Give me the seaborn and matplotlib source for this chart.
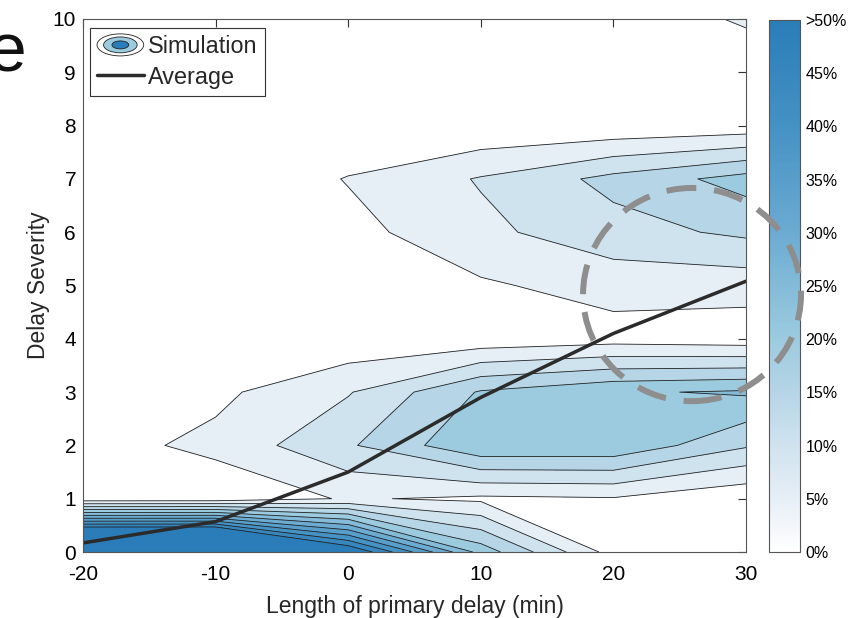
import numpy as np
import matplotlib
matplotlib.use("Agg")
import matplotlib.pyplot as plt
import seaborn as sns
from matplotlib.colors import LinearSegmentedColormap, Normalize
from matplotlib.patches import Ellipse
from matplotlib.lines import Line2D
from matplotlib.patches import Patch
from matplotlib.legend_handler import HandlerBase
import matplotlib.cm as cm

# ---------------- data ----------------
primary_delay = [-20, -10, 0, 10, 20, 30]          # x grid (min)
severity = [0, 1, 2, 3, 4, 5, 6, 7, 8, 9, 10]      # y grid
# share of simulations (rows: severity, columns: primary delay)
sim_row_0 = [0.93, 0.93, 0.56, 0.23, 0.028, 0.0]
sim_row_1 = [0.013, 0.015, 0.055, 0.04, 0.046, 0.009]
sim_row_2 = [0.029, 0.063, 0.143, 0.242, 0.241, 0.156]
sim_row_3 = [0.0, 0.0385, 0.096, 0.205, 0.243, 0.257]
sim_row_4 = [0.0, 0.0, 0.011, 0.016, 0.029, 0.021]
sim_row_5 = [0.0, 0.0, 0.0, 0.043, 0.07, 0.07]
sim_row_6 = [0.0, 0.0, 0.033, 0.088, 0.131, 0.16]
sim_row_7 = [0.0, 0.0, 0.053, 0.104, 0.165, 0.22]
sim_row_8 = [0.0, 0.0, 0.0, 0.006, 0.01, 0.018]
sim_row_9 = [0.0, 0.0, 0.0, 0.0, 0.0, 0.0]
sim_row_10 = [0.0, 0.0, 0.0, 0.0, 0.0, 0.06]

avg_delay = [-20, -10, 0, 10, 20, 30]
avg_severity = [0.17, 0.57, 1.5, 2.9, 4.1, 5.08]

contour_levels = [0.05, 0.10, 0.15, 0.20, 0.25, 0.30, 0.35, 0.40, 0.45, 0.50]
cbar_ticks = [0, 0.05, 0.10, 0.15, 0.20, 0.25, 0.30, 0.35, 0.40, 0.45, 0.50]
cbar_labels = ["0%", "5%", "10%", "15%", "20%", "25%", "30%", "35%", "40%", "45%", ">50%"]
x_ticks = [-20, -10, 0, 10, 20, 30]
x_tick_labels = ["-20", "-10", "0", "10", "20", "30"]
y_ticks = [0, 1, 2, 3, 4, 5, 6, 7, 8, 9, 10]

sim = np.array([sim_row_0, sim_row_1, sim_row_2, sim_row_3, sim_row_4, sim_row_5,
                sim_row_6, sim_row_7, sim_row_8, sim_row_9, sim_row_10])

# ---------------- style ----------------
sns.set_theme(style="white")
plt.rcParams["font.family"] = ["Liberation Sans", "DejaVu Sans"]
plt.rcParams["axes.unicode_minus"] = False

cmap = LinearSegmentedColormap.from_list(
    "sim_blues",
    [(0.0, "#ffffff"), (0.1, "#e6eef6"), (0.2, "#cfe3ef"), (0.3, "#b6d5e6"),
     (0.4, "#9ccbdf"), (0.6, "#6cabd2"), (0.8, "#4592c4"), (1.0, "#2a7db8")])
norm = Normalize(0, 0.5)

fig = plt.figure(figsize=(8.58, 6.18), dpi=100)
ax = fig.add_axes([83 / 858, 66 / 618, 663 / 858, 533 / 618])
cax = fig.add_axes([769 / 858, 66 / 618, 31 / 858, 532 / 618])

fill_levels = contour_levels + [1.01]
band_colors = [cmap(norm(l)) for l in contour_levels]
ax.contourf(primary_delay, severity, sim, levels=fill_levels, colors=band_colors)
ax.contour(primary_delay, severity, sim, levels=contour_levels,
           colors="#222222", linewidths=0.6)

sns.lineplot(x=avg_delay, y=avg_severity, ax=ax, color="#2b2b2b", linewidth=2.5,
             sort=False)

ax.set_xlim(-20, 30)
ax.set_ylim(0, 10)
ax.set_xticks(x_ticks)
ax.set_xticklabels(x_tick_labels)
ax.set_yticks(y_ticks)
ax.tick_params(direction="in", top=True, right=True, length=6, width=0.8,
               labelsize=15, colors="#333333", labelcolor="black", pad=5)
ax.tick_params(axis="x", pad=9)
for s in ax.spines.values():
    s.set_color("#555555")
    s.set_linewidth(0.8)
ax.set_xlabel("Length of primary delay (min)", fontsize=16.5, labelpad=8)
ax.set_ylabel("Delay Severity", fontsize=16.5, labelpad=2)

# highlight circle
circ = Ellipse((25.93, 4.83), 16.44, 4.0, transform=ax.transData, fill=False,
               edgecolor="#8e8e8e", linewidth=4.3, linestyle=(0, (5, 3)),
               zorder=10, clip_on=False)
fig.add_artist(circ)

# colorbar
cb = fig.colorbar(cm.ScalarMappable(norm=norm, cmap=cmap), cax=cax)
cb.set_ticks(cbar_ticks)
cb.set_ticklabels(cbar_labels)
cax.tick_params(direction="in", length=5, width=0.6, labelsize=11.5,
                left=True, right=True, colors="#555555", labelcolor="black", pad=4)
cb.outline.set_edgecolor("#555555")
cb.outline.set_linewidth(0.8)


class EllipseHandler(HandlerBase):
    def create_artists(self, legend, orig_handle, xdescent, ydescent, width,
                       height, fontsize, trans):
        cx = width / 2 - xdescent
        cy = height / 2 - ydescent
        arts = []
        for scale, fc in [(1.0, "#ffffff"), (0.72, "#9ccbdf"), (0.36, "#2a7db8")]:
            e = Ellipse((cx, cy), width * scale, height * 1.35 * scale,
                        facecolor=fc, edgecolor="#222222", lw=0.6, transform=trans)
            arts.append(e)
        return arts


sim_handle = Patch(facecolor="#9ccbdf", label="Simulation")
avg_handle = Line2D([0], [0], color="#2b2b2b", lw=2.5, label="Average")
leg = ax.legend(handles=[sim_handle, avg_handle], labels=["Simulation", "Average"],
                handler_map={Patch: EllipseHandler()},
                loc="upper left", bbox_to_anchor=(0.0106, 0.983), borderaxespad=0,
                fontsize=16.8, frameon=True, fancybox=False, framealpha=1,
                edgecolor="#333333", handlelength=2.0, handletextpad=0.2,
                labelspacing=0.32, borderpad=0.3)
leg.get_frame().set_linewidth(0.8)

fig.text(-12 / 858, (618 - 72) / 618, "e", fontsize=50,
         family=["Liberation Sans", "DejaVu Sans"], ha="left", va="baseline",
         color="#111111")

fig.savefig("out.png", dpi=100)
